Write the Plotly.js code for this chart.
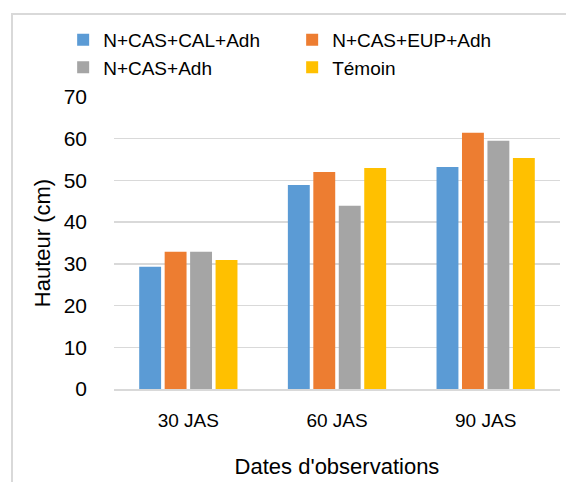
<!DOCTYPE html>
<html>
<head>
<meta charset="utf-8">
<script src="https://cdn.plot.ly/plotly-3.0.1.min.js"></script>
<style>html,body{margin:0;padding:0;background:#fff;}#chart{width:566px;height:482px;}</style>
</head>
<body>
<div id="chart"></div>
<script>
const categories = ["30 JAS", "60 JAS", "90 JAS"];
const seriesNames = ["N+CAS+CAL+Adh", "N+CAS+EUP+Adh", "N+CAS+Adh", "Témoin"];
const calValues = [29.3, 48.9, 53.2];
const eupValues = [32.9, 52.0, 61.4];
const casValues = [32.9, 43.9, 59.5];
const temoinValues = [30.9, 53.0, 55.4];
const colors = ["#5b9bd5", "#ed7d31", "#a5a5a5", "#ffc000"];
const yTicks = [0, 10, 20, 30, 40, 50, 60, 70];

const allValues = [calValues, eupValues, casValues, temoinValues];
const font = "Arial, 'Liberation Sans', sans-serif";

const traces = seriesNames.map((name, i) => ({
  type: "bar",
  name: name,
  x: categories,
  y: allValues[i],
  marker: {color: colors[i]},
  hoverinfo: "skip"
}));

const layout = {
  width: 566,
  height: 482,
  margin: {l: 114, r: 6, t: 97, b: 93},
  paper_bgcolor: "#ffffff",
  plot_bgcolor: "#ffffff",
  barmode: "group",
  bargap: 0.315,
  bargroupgap: 0.14,
  font: {family: font, color: "#000000"},
  showlegend: true,
  legend: {
    orientation: "h",
    x: -0.114,
    xanchor: "left",
    y: 1.261,
    yanchor: "top",
    entrywidth: 184,
    entrywidthmode: "pixels",
    font: {size: 19, family: font, color: "#000000"},
    itemwidth: 30,
    tracegroupgap: 0,
    bgcolor: "rgba(0,0,0,0)"
  },
  xaxis: {
    type: "category",
    showgrid: false,
    showline: true,
    linecolor: "#d9d9d9",
    linewidth: 1.5,
    ticks: "",
    tickfont: {size: 19, family: font, color: "#000000"},
    ticklabelstandoff: 14,
    title: {text: "Dates d'observations", font: {size: 22, family: font, color: "#000000"}, standoff: 28},
    fixedrange: true
  },
  yaxis: {
    range: [0, 70],
    tickvals: yTicks,
    ticktext: yTicks.map(String),
    showgrid: true,
    gridcolor: "#d9d9d9",
    gridwidth: 1.5,
    zeroline: false,
    showline: false,
    ticks: "",
    tickfont: {size: 21, family: font, color: "#000000"},
    ticklabelstandoff: 26,
    title: {text: "Hauteur (cm)", font: {size: 22, family: font, color: "#000000"}, standoff: 6},
    fixedrange: true
  },
  shapes: [{
    type: "rect",
    xref: "paper", yref: "paper",
    x0: (12 - 114) / 446, x1: (570 - 114) / 446,
    y0: (389 - 486) / 292, y1: (389 - 14) / 292,
    line: {color: "#d9d9d9", width: 2},
    fillcolor: "rgba(0,0,0,0)",
    layer: "below"
  }]
};

Plotly.newPlot("chart", traces, layout, {staticPlot: true, displayModeBar: false});
</script>
</body>
</html>
